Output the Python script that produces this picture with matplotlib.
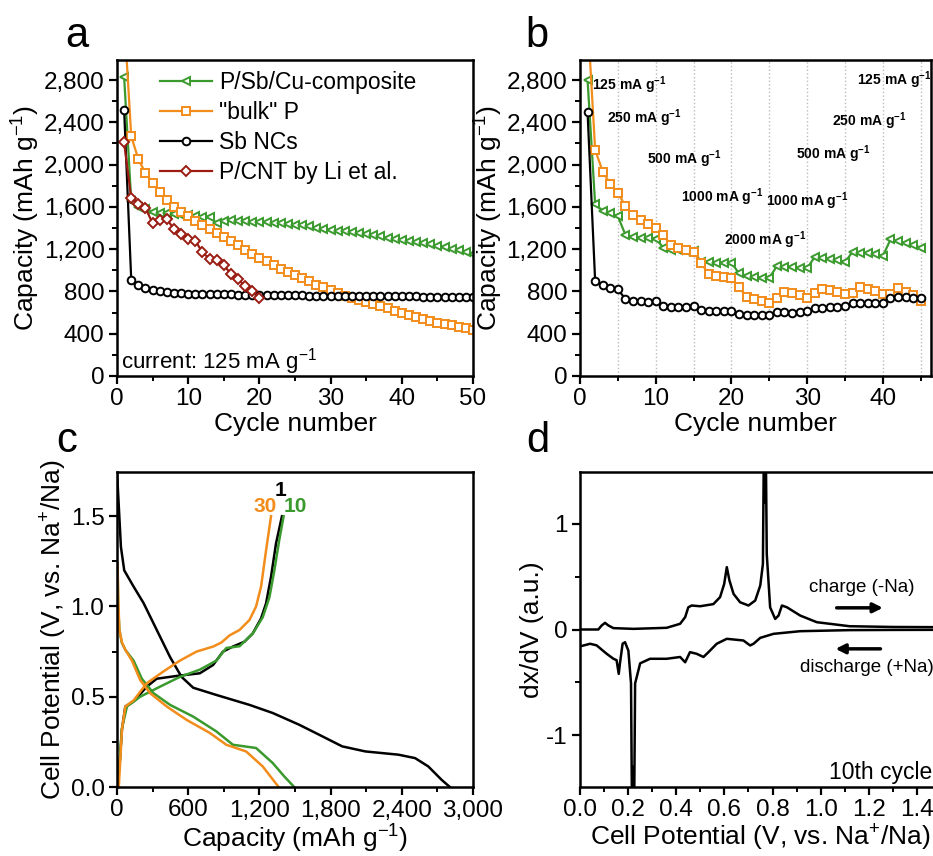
import matplotlib
matplotlib.use("Agg")
import matplotlib.pyplot as plt
import matplotlib.ticker as mticker

plt.rcParams['font.family'] = ['Liberation Sans', 'DejaVu Sans']
plt.rcParams['mathtext.default'] = 'regular'

GREEN = '#3a9a2e'
ORANGE = '#f28c1a'
DARKRED = '#9a1c12'

# ---- panel a: cycling at 125 mA/g ----
cycles_a = list(range(1, 51))
pscu_a = [2830, 1660, 1600, 1580, 1555, 1545, 1540, 1535, 1525, 1520,
          1510, 1505, 1500, 1450, 1470, 1475, 1470, 1465, 1460, 1458,
          1455, 1450, 1445, 1440, 1432, 1425, 1415, 1405, 1395, 1385,
          1375, 1368, 1358, 1350, 1340, 1330, 1320, 1310, 1300, 1290,
          1280, 1268, 1255, 1245, 1232, 1220, 1205, 1190, 1175, 1150]
bulkp_a = [3400, 2270, 2050, 1920, 1830, 1740, 1670, 1600, 1555, 1510,
           1470, 1430, 1390, 1350, 1315, 1275, 1235, 1195, 1158, 1120,
           1085, 1050, 1015, 985, 955, 925, 895, 865, 838, 810,
           785, 760, 738, 718, 700, 680, 660, 640, 615, 592,
           575, 560, 543, 525, 505, 492, 478, 465, 452, 438]
sbnc_a = [2520, 910, 865, 835, 815, 802, 795, 790, 785, 780,
          778, 776, 775, 774, 773, 772, 771, 770, 769, 768,
          767, 766, 765, 764, 763, 762, 761, 760, 760, 759,
          758, 758, 757, 757, 756, 756, 755, 755, 754, 754,
          753, 753, 752, 752, 751, 751, 750, 750, 749, 748]
cycles_cnt = list(range(1, 21))
pcnt_a = [2210, 1680, 1630, 1590, 1445, 1480, 1485, 1390, 1340, 1300,
          1280, 1170, 1108, 1100, 1050, 965, 915, 850, 805, 740]

# ---- panel b: rate capability ----
cycles_b = list(range(1, 46))
pscu_b = [2800, 1625, 1565, 1540, 1512, 1335, 1315, 1310, 1305, 1300,
          1215, 1195, 1190, 1185, 1180, 1080, 1075, 1070, 1068, 1072,
          970, 950, 935, 932, 928, 1040, 1035, 1028, 1022, 1018,
          1128, 1115, 1105, 1095, 1078, 1175, 1168, 1160, 1150, 1135,
          1292, 1275, 1255, 1240, 1215]
bulkp_b = [3400, 2140, 1933, 1816, 1734, 1608, 1523, 1476, 1435, 1397,
           1334, 1240, 1208, 1190, 1176, 1066, 965, 950, 935, 924,
           839, 750, 728, 712, 694, 741, 791, 785, 762, 741,
           785, 826, 812, 795, 772, 782, 845, 825, 805, 775,
           772, 829, 795, 765, 709]
sbnc_b = [2494, 898, 860, 830, 820, 728, 705, 705, 702, 712,
          662, 652, 652, 655, 665, 624, 615, 615, 615, 612,
          586, 578, 577, 576, 577, 608, 605, 600, 605, 612,
          646, 648, 650, 655, 662, 690, 688, 690, 694, 694,
          735, 750, 745, 742, 740]
rate_labels = [(1.6, 2710, '125 mA g$^{-1}$'), (3.6, 2390, '250 mA g$^{-1}$'),
               (8.8, 2010, '500 mA g$^{-1}$'), (13.3, 1650, '1000 mA g$^{-1}$'),
               (19.0, 1240, '2000 mA g$^{-1}$'), (24.6, 1610, '1000 mA g$^{-1}$'),
               (28.5, 2050, '500 mA g$^{-1}$'), (33.3, 2370, '250 mA g$^{-1}$'),
               (36.6, 2750, '125 mA g$^{-1}$')]

# ---- panel c: voltage profiles ----
c1_dis_cap = [0, 33, 61, 140, 223, 335, 447, 544, 642, 837, 1116, 1312, 1535,
              1702, 1898, 2093, 2372, 2512, 2623, 2735, 2805]
c1_dis_v = [1.745, 1.33, 1.20, 1.11, 1.02, 0.87, 0.72, 0.61, 0.55, 0.51, 0.455,
            0.41, 0.345, 0.29, 0.225, 0.197, 0.179, 0.16, 0.114, 0.04, 0.0]
c1_chg_cap = [0, 22, 42, 70, 140, 251, 335, 502, 698, 810, 893, 977, 1074, 1144,
              1214, 1256, 1298, 1340, 1390]
c1_chg_v = [0.0, 0.13, 0.32, 0.446, 0.474, 0.556, 0.60, 0.615, 0.63, 0.676, 0.75,
            0.778, 0.805, 0.851, 0.934, 1.017, 1.165, 1.349, 1.5]
c10_dis_cap = [5, 10, 20, 40, 70, 140, 209, 307, 447, 642, 837, 977, 1172, 1312,
               1409, 1493]
c10_dis_v = [1.22, 1.0, 0.87, 0.80, 0.76, 0.70, 0.60, 0.52, 0.455, 0.39, 0.308,
             0.234, 0.216, 0.133, 0.059, 0.0]
c10_chg_cap = [20, 40, 84, 195, 363, 530, 698, 837, 921, 1033, 1144, 1228, 1284,
               1326, 1367, 1404]
c10_chg_v = [0.1, 0.32, 0.446, 0.50, 0.556, 0.61, 0.65, 0.70, 0.77, 0.78, 0.85,
             0.94, 1.05, 1.20, 1.367, 1.5]
c30_dis_cap = [5, 10, 20, 42, 70, 126, 195, 279, 419, 586, 781, 921, 1088, 1228,
               1362]
c30_dis_v = [1.24, 1.05, 0.87, 0.80, 0.76, 0.70, 0.593, 0.52, 0.446, 0.372, 0.30,
             0.234, 0.197, 0.114, 0.0]
c30_chg_cap = [15, 42, 70, 140, 251, 391, 530, 670, 810, 879, 949, 1033, 1116,
               1172, 1214, 1256, 1298]
c30_chg_v = [0.0, 0.32, 0.446, 0.48, 0.575, 0.64, 0.70, 0.75, 0.778, 0.80, 0.84,
             0.87, 0.925, 1.0, 1.11, 1.31, 1.5]

# ---- panel d: differential capacity, 10th cycle ----
chg_v = [0.0, 0.076, 0.09, 0.104, 0.118, 0.139, 0.222, 0.36, 0.416, 0.437, 0.45,
         0.464, 0.499, 0.554, 0.582, 0.599, 0.61, 0.621, 0.638, 0.665, 0.70,
         0.728, 0.749, 0.76, 0.765, 0.768, 0.771, 0.776, 0.79, 0.811, 0.825,
         0.839, 0.86, 0.915, 0.984, 1.12, 1.3, 1.5]
chg_dxdv = [0.0, 0.0, 0.038, 0.063, 0.038, 0.013, 0.006, 0.016, 0.054, 0.117,
            0.21, 0.227, 0.22, 0.24, 0.306, 0.43, 0.59, 0.463, 0.337, 0.258,
            0.227, 0.274, 0.416, 0.62, 2.0, 1.2, 2.0, 0.715, 0.21, 0.1, 0.132,
            0.227, 0.21, 0.132, 0.069, 0.031, 0.024, 0.022]
dis_v = [0.0, 0.042, 0.069, 0.111, 0.139, 0.152, 0.161, 0.166, 0.177, 0.187,
         0.201, 0.212, 0.217, 0.22, 0.224, 0.229, 0.25, 0.291, 0.36, 0.416,
         0.437, 0.457, 0.485, 0.513, 0.534, 0.568, 0.61, 0.679, 0.707, 0.721,
         0.749, 0.804, 0.915, 1.12, 1.3, 1.5]
dis_dxdv = [-0.16, -0.135, -0.15, -0.23, -0.277, -0.29, -0.42, -0.32, -0.135,
            -0.12, -0.2, -0.51, -2.0, -1.3, -2.0, -0.51, -0.32, -0.277, -0.277,
            -0.26, -0.31, -0.214, -0.23, -0.26, -0.214, -0.135, -0.088, -0.104,
            -0.151, -0.135, -0.079, -0.041, -0.016, -0.006, -0.004, -0.003]

W, H = 933, 856
fig = plt.figure(figsize=(W / 100, H / 100), dpi=100)

TICK = 17.5
LABEL = 19


def box(l, t, r, b):
    return [l / W, 1 - b / H, (r - l) / W, (b - t) / H]


def style(ax):
    for s in ax.spines.values():
        s.set_linewidth(1.8)
    ax.tick_params(which='major', direction='out', length=6, width=1.6,
                   labelsize=TICK, top=False, right=False, pad=3)
    ax.tick_params(which='minor', direction='out', length=3.5, width=1.4,
                   top=False, right=False)


thousands = mticker.FuncFormatter(lambda v, p: f'{int(v):,}')
mk = dict(markersize=5.5, markeredgewidth=1.4, markerfacecolor='white', linewidth=1.6)

# panel a
ax = fig.add_axes(box(117, 60, 473, 376))
ax.plot(cycles_a, pscu_a, '-<', color=GREEN, label='P/Sb/Cu-composite', **mk)
ax.plot(cycles_a, bulkp_a, '-s', color=ORANGE, label='"bulk" P', **mk)
ax.plot(cycles_a, sbnc_a, '-o', color='black', label='Sb NCs', **mk)
ax.plot(cycles_cnt, pcnt_a, '-D', color=DARKRED, label='P/CNT by Li et al.', **mk)
ax.set_xlim(0, 50)
ax.set_ylim(0, 2990)
ax.xaxis.set_major_locator(mticker.MultipleLocator(10))
ax.xaxis.set_minor_locator(mticker.MultipleLocator(5))
ax.yaxis.set_major_locator(mticker.MultipleLocator(400))
ax.yaxis.set_minor_locator(mticker.MultipleLocator(200))
ax.yaxis.set_major_formatter(thousands)
style(ax)
ax.set_xlabel('Cycle number', fontsize=LABEL, labelpad=1)
ax.set_ylabel('Capacity (mAh g$^{-1}$)', fontsize=LABEL, labelpad=1)
ax.legend(loc='upper left', fontsize=16.5, frameon=False, handlelength=2.3,
          borderpad=0, borderaxespad=0, labelspacing=0.3, handletextpad=0.3,
          bbox_to_anchor=(0.12, 0.965))
ax.text(0.01, 0.025, 'current: 125 mA g$^{-1}$', transform=ax.transAxes, fontsize=16)
fig.text(77 / W, 1 - 36 / H, 'a', fontsize=30, ha='center', va='center')

# panel b
ax = fig.add_axes(box(580, 60, 931, 376))
for g in range(5, 50, 5):
    ax.axvline(g, color='#bbbbbb', linestyle=':', linewidth=1.0, zorder=0)
ax.plot(cycles_b, pscu_b, '-<', color=GREEN, **mk)
ax.plot(cycles_b, bulkp_b, '-s', color=ORANGE, **mk)
ax.plot(cycles_b, sbnc_b, '-o', color='black', **mk)
for x, y, s in rate_labels:
    ax.text(x, y, s, fontsize=10, fontweight='bold')
ax.set_xlim(0, 46.35)
ax.set_ylim(0, 2990)
ax.xaxis.set_major_locator(mticker.MultipleLocator(10))
ax.xaxis.set_minor_locator(mticker.MultipleLocator(5))
ax.yaxis.set_major_locator(mticker.MultipleLocator(400))
ax.yaxis.set_minor_locator(mticker.MultipleLocator(200))
ax.yaxis.set_major_formatter(thousands)
style(ax)
ax.set_xlabel('Cycle number', fontsize=LABEL, labelpad=1)
ax.set_ylabel('Capacity (mAh g$^{-1}$)', fontsize=LABEL, labelpad=1)
fig.text(537 / W, 1 - 36 / H, 'b', fontsize=30, ha='center', va='center')

# panel c
ax = fig.add_axes(box(117, 472, 473, 787))
ax.plot(c1_dis_cap, c1_dis_v, color='black', linewidth=1.8)
ax.plot(c1_chg_cap, c1_chg_v, color='black', linewidth=1.8)
ax.plot(c10_dis_cap, c10_dis_v, color=GREEN, linewidth=1.8)
ax.plot(c10_chg_cap, c10_chg_v, color=GREEN, linewidth=1.8)
ax.plot(c30_dis_cap, c30_dis_v, color=ORANGE, linewidth=1.8)
ax.plot(c30_chg_cap, c30_chg_v, color=ORANGE, linewidth=1.8)
ax.text(1381, 1.64, '1', color='black', fontsize=15, fontweight='bold', ha='center', va='center')
ax.text(1250, 1.555, '30', color=ORANGE, fontsize=15, fontweight='bold', ha='center', va='center')
ax.text(1505, 1.555, '10', color=GREEN, fontsize=15, fontweight='bold', ha='center', va='center')
ax.set_xlim(0, 3000)
ax.set_ylim(0, 1.745)
ax.xaxis.set_major_locator(mticker.MultipleLocator(600))
ax.xaxis.set_minor_locator(mticker.MultipleLocator(300))
ax.yaxis.set_major_locator(mticker.MultipleLocator(0.5))
ax.yaxis.set_minor_locator(mticker.MultipleLocator(0.25))
ax.xaxis.set_major_formatter(thousands)
ax.yaxis.set_major_formatter(mticker.FormatStrFormatter('%.1f'))
style(ax)
ax.set_xlabel('Capacity (mAh g$^{-1}$)', fontsize=LABEL, labelpad=1)
ax.set_ylabel('Cell Potential (V, vs. Na$^{+}$/Na)', fontsize=LABEL, labelpad=1)
fig.text(67 / W, 1 - 441 / H, 'c', fontsize=30, ha='center', va='center')

# panel d
ax = fig.add_axes(box(580, 472, 941, 787))
ax.plot(chg_v, chg_dxdv, color='black', linewidth=1.8)
ax.plot(dis_v, dis_dxdv, color='black', linewidth=1.8)
ax.text(1.172, 0.40, 'charge (-Na)', fontsize=13.5, ha='center', va='center')
ax.annotate('', xy=(1.27, 0.205), xytext=(1.055, 0.205),
            arrowprops=dict(arrowstyle='-|>', color='black', lw=2.5, mutation_scale=14))
ax.text(1.19, -0.36, 'discharge (+Na)', fontsize=13.5, ha='center', va='center')
ax.annotate('', xy=(1.05, -0.183), xytext=(1.26, -0.183),
            arrowprops=dict(arrowstyle='-|>', color='black', lw=2.5, mutation_scale=14))
ax.text(1.465, -1.35, '10th cycle', fontsize=16.5, ha='right', va='center')
ax.set_xlim(0, 1.5)
ax.set_ylim(-1.49, 1.49)
ax.xaxis.set_major_locator(mticker.MultipleLocator(0.2))
ax.xaxis.set_minor_locator(mticker.MultipleLocator(0.1))
ax.yaxis.set_major_locator(mticker.FixedLocator([-1, 0, 1]))
ax.yaxis.set_minor_locator(mticker.MultipleLocator(0.5))
ax.xaxis.set_major_formatter(mticker.FormatStrFormatter('%.1f'))
ax.yaxis.set_major_formatter(mticker.FuncFormatter(lambda v, p: f'{int(v)}'))
style(ax)
ax.set_xlabel('Cell Potential (V, vs. Na$^{+}$/Na)', fontsize=LABEL, labelpad=1)
ax.set_ylabel('dx/dV (a.u.)', fontsize=LABEL, labelpad=1)
fig.text(538 / W, 1 - 441 / H, 'd', fontsize=30, ha='center', va='center')

fig.savefig('out.png', dpi=100)
